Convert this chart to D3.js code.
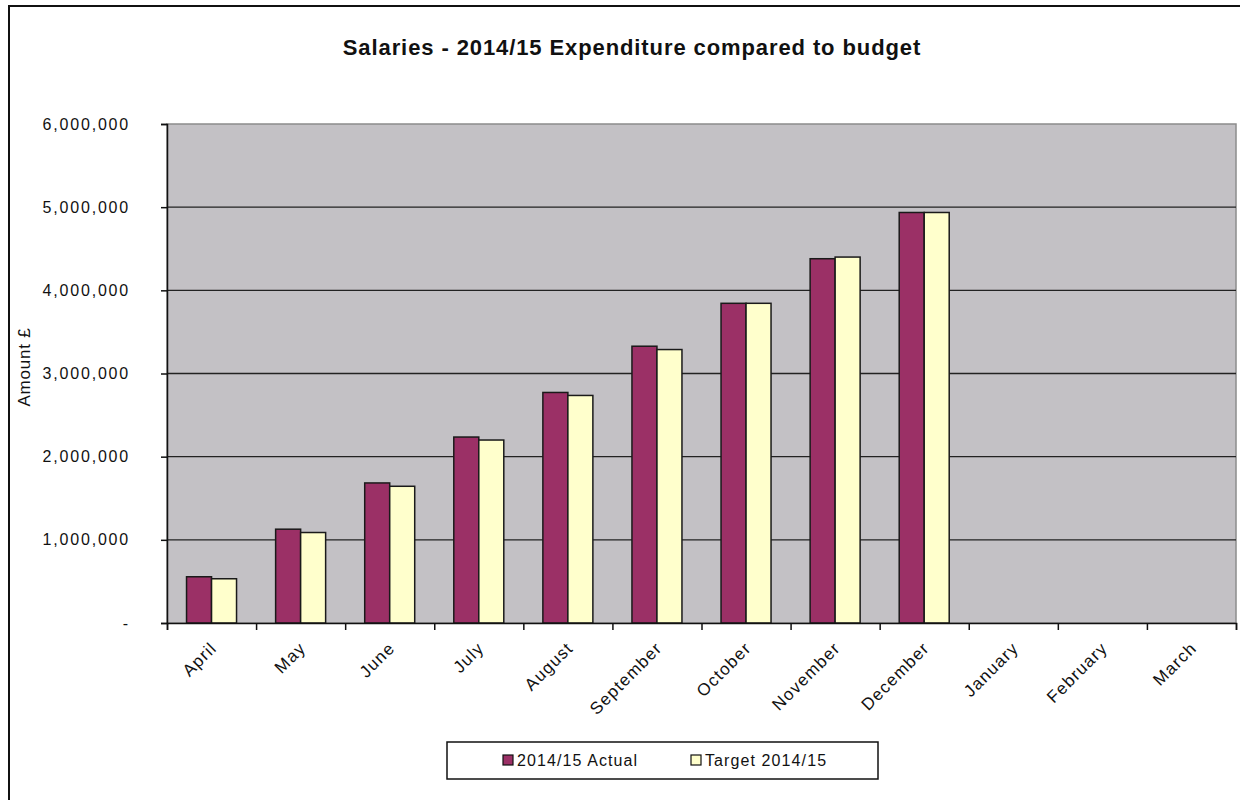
<!DOCTYPE html>
<html>
<head>
<meta charset="utf-8">
<script src="https://cdn.jsdelivr.net/npm/d3@7"></script>
<style>
  body { margin: 0; background: #fff; }
  svg { display: block; font-family: "Liberation Sans", Arial, sans-serif; }
</style>
</head>
<body>
<div class="chart"></div>
<script>
// data
var months = ["April", "May", "June", "July", "August", "September",
              "October", "November", "December", "January", "February", "March"];
var actual = [556000, 1128000, 1684000, 2236000, 2772000, 3328000,
              3844000, 4380000, 4936000, null, null, null];
var target = [532000, 1088000, 1644000, 2200000, 2736000, 3288000,
              3844000, 4400000, 4936000, null, null, null];
var yTicks = [0, 1000000, 2000000, 3000000, 4000000, 5000000, 6000000];
var seriesNames = ["2014/15 Actual", "Target 2014/15"];
var colors = ["#9b3066", "#ffffcc"];

var svgx = 1240;
var svgy = 800;
var margin = {top: 124, right: 4, bottom: 177, left: 167};
var x = svgx - margin.left - margin.right;
var y = svgy - margin.top - margin.bottom;

var svg = d3.select(".chart").append("svg")
    .attr("width", svgx)
    .attr("height", svgy);

// outer chart border
svg.append("rect")
    .attr("x", 9).attr("y", 6)
    .attr("width", svgx).attr("height", svgy)
    .attr("fill", "none")
    .attr("stroke", "#111")
    .attr("stroke-width", 2);

svg.append("text")
    .attr("x", 632)
    .attr("y", 55)
    .attr("text-anchor", "middle")
    .attr("font-size", "22px")
    .attr("font-weight", "bold")
    .attr("letter-spacing", "0.9px")
    .attr("fill", "#111")
    .text("Salaries - 2014/15 Expenditure compared to budget");

var wrapper = svg.append("g")
    .attr("transform", "translate(" + margin.left + "," + margin.top + ")");

var xscale = d3.scaleBand().domain(months).range([0, x]).paddingInner(0).paddingOuter(0);
var yscale = d3.scaleLinear().domain([0, 6000000]).range([y, 0]);
var inner = d3.scaleBand().domain([0, 1]).range([0, 50]);

// plot area
wrapper.append("rect")
    .attr("width", x).attr("height", y)
    .attr("fill", "#c3c1c5")
    .attr("stroke", "#8c8c8c")
    .attr("stroke-width", 1.5);

// gridlines
wrapper.append("g")
    .selectAll("line")
    .data(yTicks.slice(1, -1))
    .enter()
    .append("line")
    .attr("x1", 0).attr("x2", x)
    .attr("y1", function(d) { return yscale(d); })
    .attr("y2", function(d) { return yscale(d); })
    .attr("stroke", "#222")
    .attr("stroke-width", 1.3);

// bars
var series = [actual, target];
series.forEach(function(vals, s) {
    wrapper.append("g")
        .selectAll("rect")
        .data(months.map(function(m, i) { return {m: m, v: vals[i]}; })
                    .filter(function(d) { return d.v != null; }))
        .enter()
        .append("rect")
        .attr("x", function(d) {
            return xscale(d.m) + xscale.bandwidth() / 2 - 25 + inner(s);
        })
        .attr("y", function(d) { return yscale(d.v); })
        .attr("width", inner.bandwidth())
        .attr("height", function(d) { return y - yscale(d.v); })
        .attr("fill", colors[s])
        .attr("stroke", "#1a1a1a")
        .attr("stroke-width", 1.5);
});

// y axis
var yaxis = d3.axisLeft(yscale)
    .tickValues(yTicks)
    .tickSize(6)
    .tickPadding(31)
    .tickFormat(function(d) { return d === 0 ? "-" : d3.format(",")(d); });
var ya = wrapper.append("g").call(yaxis);
ya.select(".domain").attr("stroke", "#111").attr("stroke-width", 1.5);
ya.selectAll(".tick line").attr("stroke", "#111").attr("stroke-width", 1.5);
ya.selectAll(".tick text")
    .attr("font-size", "16px")
    .attr("letter-spacing", "1.8px")
    .attr("fill", "#111");

// x axis
var xaxis = d3.axisBottom(d3.scaleLinear().domain([0, 12]).range([0, x]))
    .tickValues(d3.range(13))
    .tickSize(7)
    .tickFormat("");
var xa = wrapper.append("g")
    .attr("transform", "translate(0," + y + ")")
    .call(xaxis);
xa.select(".domain").attr("stroke", "#111").attr("stroke-width", 1.5);
xa.selectAll(".tick line").attr("stroke", "#111").attr("stroke-width", 1.5);

wrapper.append("g")
    .selectAll("text")
    .data(months)
    .enter()
    .append("text")
    .attr("transform", function(d) {
        return "translate(" + (xscale(d) + xscale.bandwidth() / 2 + 2) + "," + (y + 22) + ") rotate(-45)";
    })
    .attr("text-anchor", "end")
    .attr("dy", "0.35em")
    .attr("font-size", "17px")
    .attr("letter-spacing", "1.2px")
    .attr("fill", "#111")
    .text(function(d) { return d; });

// y axis title
svg.append("text")
    .attr("transform", "translate(30,367) rotate(-90)")
    .attr("text-anchor", "middle")
    .attr("font-size", "17px")
    .attr("letter-spacing", "0.8px")
    .attr("fill", "#111")
    .text("Amount £");

// legend
var legend = svg.append("g");
legend.append("rect")
    .attr("x", 447).attr("y", 742)
    .attr("width", 431).attr("height", 37)
    .attr("fill", "#fff")
    .attr("stroke", "#111")
    .attr("stroke-width", 1.5);

var legendX = [503, 691];
seriesNames.forEach(function(name, i) {
    legend.append("rect")
        .attr("x", legendX[i]).attr("y", 755)
        .attr("width", 10).attr("height", 10)
        .attr("fill", colors[i])
        .attr("stroke", "#111")
        .attr("stroke-width", 1.2);
    legend.append("text")
        .attr("x", legendX[i] + 14)
        .attr("y", 766)
        .attr("font-size", "16px")
        .attr("letter-spacing", "1.1px")
        .attr("fill", "#111")
        .text(name);
});
</script>
</body>
</html>
